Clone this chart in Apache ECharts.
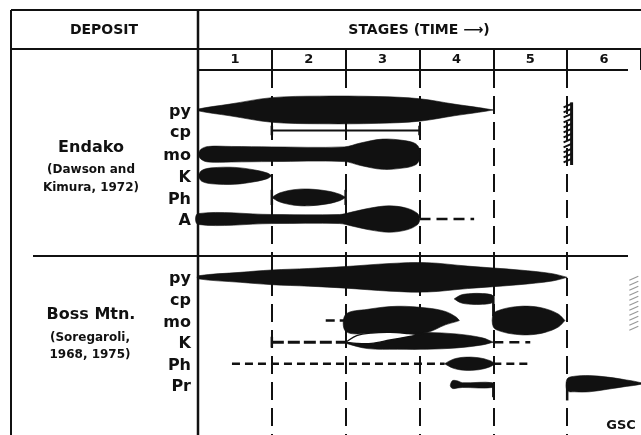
<!DOCTYPE html>
<html>
<head>
<meta charset="utf-8">
<script src="https://cdn.jsdelivr.net/npm/echarts@6/dist/echarts.min.js"></script>
<style>
  html, body { margin: 0; padding: 0; background: #fff; }
  #chart { width: 641px; height: 435px; }
</style>
</head>
<body>
<div id="chart"></div>
<script>
// stages along x (0..6), rows along y (one row per mineral)
const STAGES = ['1', '2', '3', '4', '5', '6'];

const ENDAKO_MINERALS = ['py', 'cp', 'mo', 'K', 'Ph', 'A'];
const ENDAKO_ROWS = [-0.05, 0.9, 2, 3, 4, 5];
const BOSS_MINERALS = ['py', 'cp', 'mo', 'K', 'Ph', 'Pr'];
const BOSS_ROWS = [7.7, 8.7, 9.7, 10.7, 11.7, 12.7];

// lens profiles: [stage position, thickness above, (thickness below)] in row units
const ENDAKO_PY = [[0, 0.04], [0.43, 0.27], [1, 0.57], [1.65, 0.64], [2.45, 0.62], [3, 0.52], [3.47, 0.27], [3.8, 0.11], [4, 0]];
const ENDAKO_CP = [1, 3];
const ENDAKO_MO = [[0, 0], [0.04, 0.23], [0.14, 0.36], [0.45, 0.36], [1, 0.34], [1.98, 0.34], [2.2, 0.52], [2.5, 0.7], [2.8, 0.63], [2.94, 0.5], [2.99, 0.32], [3.01, 0]];
const ENDAKO_K = [[0, 0], [0.05, 0.25], [0.19, 0.37], [0.5, 0.39], [0.77, 0.27], [0.94, 0.13], [1, 0]];
const ENDAKO_PH = [[1, 0], [1.1, 0.2], [1.3, 0.36], [1.5, 0.39], [1.75, 0.3], [1.92, 0.15], [2, 0]];
const ENDAKO_A = [[0, 0.25], [1, 0.21], [1.92, 0.21], [2.08, 0.32], [2.32, 0.5], [2.59, 0.61], [2.83, 0.5], [2.97, 0.27], [3, 0.09]];
const ENDAKO_A_DASH = [3, 3.74];
const ENDAKO_HATCH = [5.06, -0.4, 2.5];

const BOSS_PY = [[0, 0.07], [0.57, 0.23], [1, 0.34], [1.5, 0.41], [2, 0.5], [2.6, 0.64], [3.1, 0.68], [3.65, 0.52], [4.35, 0.34], [4.8, 0.17], [5, 0]];
const BOSS_CP = [[3.47, 0], [3.56, 0.18], [3.7, 0.25], [3.85, 0.25], [3.97, 0.2], [4, 0.1]];
const BOSS_CP_LINK = [4, 8.55, 9.5];
const BOSS_MO_DASH = [1.73, 2];
const BOSS_MO = [[2, 0.28, 0.5], [2.3, 0.52, 0.62], [2.7, 0.66, 0.62], [3.1, 0.58, 0.55], [3.35, 0.42, 0.2], [3.5, 0.15, 0.05], [3.54, 0, 0]];
const BOSS_MO_2 = [[4, 0.3], [4.1, 0.5], [4.3, 0.64], [4.5, 0.66], [4.7, 0.55], [4.88, 0.3], [4.97, 0]];
const BOSS_K_DASH = [1, 2];
const BOSS_K = [[2, 0, 0.05], [2.3, 0.35, 0.3], [2.7, 0.45, 0.33], [3.1, 0.45, 0.33], [3.5, 0.38, 0.27], [3.85, 0.2, 0.13], [4, 0, 0]];
const BOSS_K_HOLLOW = [[2, 0, 0], [2.15, 0.3, 0.06], [2.35, 0.42, 0.06], [2.6, 0.45, -0.1], [2.85, 0.4, -0.25], [3, 0.35, -0.35]];
const BOSS_K_DASH2 = [4, 4.5];
const BOSS_PH_DASH = [0.46, 3.34];
const BOSS_PH = [[3.34, 0], [3.45, 0.2], [3.6, 0.3], [3.8, 0.28], [3.95, 0.15], [4, 0.05]];
const BOSS_PH_DASH2 = [4, 4.5];
const BOSS_PR = [[3.42, 0.05, 0.05], [3.45, 0.22, 0.15], [3.52, 0.2, 0.12], [3.58, 0.12, 0.1], [3.99, 0.12, 0.1]];
const BOSS_PR_TICK = [4, 12.6, 13.25];
const BOSS_PR_2 = [[5, 0.3, 0.25], [5.1, 0.42, 0.3], [5.3, 0.45, 0.3], [5.55, 0.38, 0.18], [5.8, 0.25, 0.05], [6, 0.12, -0.05]];
const BOSS_PR_2_TICK = [5, 12.7, 13.4];
const BOSS_HATCH = [5.95, 7.6, 10.2];

const INK = '#111';
const FONT = '"DejaVu Sans", sans-serif';

const shapes = [
  { kind: 'lens', row: ENDAKO_ROWS[0], pts: ENDAKO_PY },
  { kind: 'line', row: ENDAKO_ROWS[1], span: ENDAKO_CP, caps: ENDAKO_CP, cap: 0.22, width: 2 },
  { kind: 'lens', row: ENDAKO_ROWS[2], pts: ENDAKO_MO },
  { kind: 'lens', row: ENDAKO_ROWS[3], pts: ENDAKO_K },
  { kind: 'lens', row: ENDAKO_ROWS[4], pts: ENDAKO_PH },
  { kind: 'line', row: ENDAKO_ROWS[4], span: [1, 1], caps: [1, 2], cap: 0.35 },
  { kind: 'lens', row: ENDAKO_ROWS[5], pts: ENDAKO_A },
  { kind: 'line', row: ENDAKO_ROWS[5], span: ENDAKO_A_DASH, dash: [11, 6] },
  { kind: 'hatch', spec: ENDAKO_HATCH, color: INK },

  { kind: 'lens', row: BOSS_ROWS[0], pts: BOSS_PY },
  { kind: 'lens', row: BOSS_ROWS[1], pts: BOSS_CP },
  { kind: 'tick', spec: BOSS_CP_LINK },
  { kind: 'line', row: BOSS_ROWS[2], span: BOSS_MO_DASH, dash: [9, 5] },
  { kind: 'lens', row: BOSS_ROWS[2], pts: BOSS_MO },
  { kind: 'lens', row: BOSS_ROWS[2], pts: BOSS_MO_2 },
  { kind: 'line', row: BOSS_ROWS[3], span: BOSS_K_DASH, dash: [12, 4], caps: [1], cap: 0.25, width: 3 },
  { kind: 'lens', row: BOSS_ROWS[3], pts: BOSS_K },
  { kind: 'hollow', row: BOSS_ROWS[3], pts: BOSS_K_HOLLOW },
  { kind: 'line', row: BOSS_ROWS[3], span: BOSS_K_DASH2, dash: [10, 6] },
  { kind: 'line', row: BOSS_ROWS[4], span: BOSS_PH_DASH, dash: [8, 5] },
  { kind: 'lens', row: BOSS_ROWS[4], pts: BOSS_PH },
  { kind: 'line', row: BOSS_ROWS[4], span: BOSS_PH_DASH2, dash: [8, 5] },
  { kind: 'lens', row: BOSS_ROWS[5], pts: BOSS_PR },
  { kind: 'tick', spec: BOSS_PR_TICK },
  { kind: 'lens', row: BOSS_ROWS[5], pts: BOSS_PR_2 },
  { kind: 'tick', spec: BOSS_PR_2_TICK },
  { kind: 'hatch', spec: BOSS_HATCH, color: '#999', faint: true }
];

function seg(a, b, style) {
  return { type: 'line', shape: { x1: a[0], y1: a[1], x2: b[0], y2: b[1] }, style: style };
}

function renderShape(params, api) {
  const s = shapes[params.dataIndex];
  const pt = (u, r) => api.coord([u, r]);

  if (s.kind === 'lens' || s.kind === 'hollow') {
    const top = s.pts.map(p => pt(p[0], s.row - p[1]));
    const bottom = s.pts.slice().reverse().map(p => pt(p[0], s.row + (p.length > 2 ? p[2] : p[1])));
    return {
      type: 'polygon',
      shape: { points: top.concat(bottom), smooth: 0.35 },
      style: {
        fill: s.kind === 'hollow' ? '#fff' : INK,
        stroke: INK,
        lineWidth: s.kind === 'hollow' ? 1.4 : 0.6
      }
    };
  }

  if (s.kind === 'line') {
    const children = [];
    if (s.span[1] > s.span[0]) {
      children.push(seg(pt(s.span[0], s.row), pt(s.span[1], s.row),
        { stroke: INK, lineWidth: s.width || 2.5, lineDash: s.dash || null }));
    }
    (s.caps || []).forEach(u => {
      children.push(seg(pt(u, s.row - s.cap), pt(u, s.row + s.cap), { stroke: INK, lineWidth: 2.5 }));
    });
    return { type: 'group', children: children };
  }

  if (s.kind === 'tick') {
    return seg(pt(s.spec[0], s.spec[1]), pt(s.spec[0], s.spec[2]), { stroke: INK, lineWidth: 2.5 });
  }

  if (s.kind === 'hatch') {
    const a = pt(s.spec[0], s.spec[1]);
    const b = pt(s.spec[0], s.spec[2]);
    const children = [];
    if (!s.faint) children.push(seg(a, b, { stroke: s.color, lineWidth: 3 }));
    for (let y = a[1] + 3; y < b[1]; y += 5) {
      children.push(seg([a[0] - 8, y + 2], [a[0] + 1, y - 2], { stroke: s.color, lineWidth: s.faint ? 1.2 : 2 }));
    }
    return { type: 'group', children: children };
  }
  return null;
}

// mineral names sit just left of stage 0 on their row
const labelData = ENDAKO_MINERALS.map((m, i) => [0, ENDAKO_ROWS[i], m])
  .concat(BOSS_MINERALS.map((m, i) => [0, BOSS_ROWS[i], m]));

function renderLabel(params, api) {
  const p = api.coord([api.value(0), api.value(1)]);
  return {
    type: 'text', x: p[0] - 7, y: p[1] + 2,
    style: {
      text: labelData[params.dataIndex][2], fill: INK,
      fontSize: 16, fontWeight: 'bold', fontFamily: FONT,
      align: 'right', verticalAlign: 'middle'
    }
  };
}

function txt(text, x, y, size, weight, align) {
  return {
    type: 'text', x: x, y: y, silent: true,
    style: {
      text: text, fill: INK, fontSize: size, fontWeight: weight, fontFamily: FONT,
      textAlign: align || 'center', align: align || 'center',
      textVerticalAlign: 'middle', verticalAlign: 'middle'
    }
  };
}

function rule(x1, y1, x2, y2, w) {
  return { type: 'line', silent: true, shape: { x1: x1, y1: y1, x2: x2, y2: y2 }, style: { stroke: INK, lineWidth: w || 2 } };
}

const chart = echarts.init(document.getElementById('chart'), null, { renderer: 'canvas' });

chart.setOption({
  backgroundColor: '#fff',
  animation: false,
  grid: { left: 198, top: 70, width: 444, height: 372 },
  xAxis: [
    {
      type: 'value', min: 0, max: 6, interval: 1,
      axisLine: { show: false }, axisTick: { show: false }, axisLabel: { show: false },
      splitLine: {
        show: true, showMinLine: false, showMaxLine: false,
        lineStyle: { color: INK, width: 2, type: [18, 8] }
      }
    },
    {
      type: 'category', data: STAGES, position: 'top', boundaryGap: true,
      axisLine: { show: false },
      axisTick: { show: true, length: 20, interval: 0, lineStyle: { color: INK, width: 2 } },
      axisLabel: { color: INK, fontSize: 13, fontWeight: 'bold', fontFamily: FONT, margin: 4 },
      splitLine: { show: false }
    }
  ],
  yAxis: {
    type: 'value', min: -1.9, max: 15, inverse: true, show: false
  },
  series: [
    {
      type: 'custom',
      xAxisIndex: 0,
      clip: false,
      renderItem: renderShape,
      data: shapes.map(s => [0, s.row || 0]),
      z: 3
    },
    {
      type: 'custom',
      xAxisIndex: 0,
      clip: false,
      renderItem: renderLabel,
      data: labelData.map(d => [d[0], d[1]]),
      z: 4
    }
  ],
  graphic: [
    rule(11, 10, 641, 10),
    rule(11, 10, 11, 435),
    rule(11, 49, 641, 49),
    rule(198, 70, 628, 70),
    rule(33, 256, 628, 256),
    rule(198, 10, 198, 435, 2.5),
    txt('DEPOSIT', 104, 30, 14, 'bold'),
    txt('STAGES (TIME \u27F6)', 419, 30, 14, 'bold'),
    txt('Endako', 91, 148, 16, 'bold'),
    txt('(Dawson and', 91, 170, 12, 'bold'),
    txt('Kimura, 1972)', 91, 188, 12, 'bold'),
    txt('Boss Mtn.', 91, 315, 16, 'bold'),
    txt('(Soregaroli,', 90, 338, 12, 'bold'),
    txt('1968, 1975)', 90, 355, 12, 'bold'),
    txt('GSC', 621, 426, 13, 'bold')
  ]
});
</script>
</body>
</html>
